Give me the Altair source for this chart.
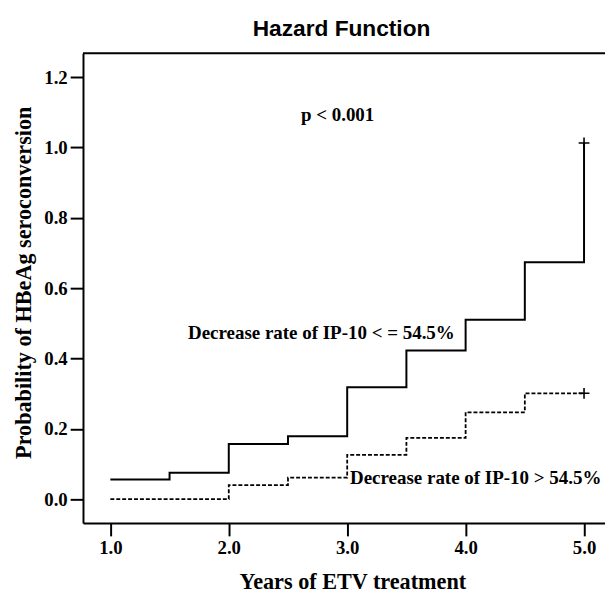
import altair as alt
import pandas as pd

# Step curve: decrease rate of IP-10 <= 54.5%
years_le = [1.0, 1.5, 2.0, 2.5, 3.0, 3.5, 4.0, 4.5, 5.0]
prob_le = [0.056, 0.075, 0.157, 0.179, 0.318, 0.423, 0.510, 0.674, 1.013]

# Step curve: decrease rate of IP-10 > 54.5%
years_gt = [1.0, 2.0, 2.5, 3.0, 3.5, 4.0, 4.5, 5.0]
prob_gt = [0.0, 0.040, 0.061, 0.126, 0.174, 0.247, 0.301, 0.301]

# Censor marks
censor_years = [5.0, 5.0]
censor_prob = [1.013, 0.301]

# Annotations
center_texts = ["p < 0.001", "Decrease rate of IP-10 < = 54.5%"]
center_x = [2.919, 2.782]
center_y = [1.076, 0.456]
left_texts = ["Decrease rate of IP-10 > 54.5%"]
left_x = [3.024]
left_y = [0.042]

x_ticks = [1, 2, 3, 4, 5]
y_ticks = [0.0, 0.2, 0.4, 0.6, 0.8, 1.0, 1.2]

serif = "Liberation Serif"

df_le = pd.DataFrame({"year": years_le, "prob": prob_le})
df_gt = pd.DataFrame({"year": years_gt, "prob": prob_gt})
df_c = pd.DataFrame({"year": censor_years, "prob": censor_prob})
df_tc = pd.DataFrame({"year": center_x, "prob": center_y, "label": center_texts})
df_tl = pd.DataFrame({"year": left_x, "prob": left_y, "label": left_texts})

x_scale = alt.Scale(domain=[0.769, 5.177], nice=False, zero=False)
y_scale = alt.Scale(domain=[-0.068, 1.268], nice=False, zero=False)

x_axis = alt.Axis(values=x_ticks, format=".1f", title="Years of ETV treatment",
                  labelPadding=3, titleX=273, titleY=66.7, titleBaseline="alphabetic",
                  titleAlign="center")
y_axis = alt.Axis(values=y_ticks, format=".1f", title="Probability of HBeAg seroconversion",
                  labelPadding=3, titleX=-52.7, titleY=232, titleAngle=270,
                  titleBaseline="alphabetic", titleAlign="center")

X = alt.X("year:Q", scale=x_scale, axis=x_axis)
Y = alt.Y("prob:Q", scale=y_scale, axis=y_axis)

line_le = alt.Chart(df_le).mark_line(interpolate="step-after", color="black",
                                     strokeWidth=2).encode(x=X, y=Y)
line_gt = alt.Chart(df_gt).mark_line(interpolate="step-after", color="black",
                                     strokeWidth=1.8, strokeDash=[4, 2]).encode(x="year:Q", y="prob:Q")
censor = alt.Chart(df_c).mark_point(shape="M-1,0H1M0,-1V1", size=120, filled=False,
                                    color="black", strokeWidth=1.6, opacity=1).encode(x="year:Q", y="prob:Q")
text_c = alt.Chart(df_tc).mark_text(font=serif, fontWeight="bold", fontSize=19.2,
                                    align="center", baseline="alphabetic", color="black").encode(
    x="year:Q", y="prob:Q", text="label:N")
text_l = alt.Chart(df_tl).mark_text(font=serif, fontWeight="bold", fontSize=19.2,
                                    align="left", baseline="alphabetic", color="black").encode(
    x="year:Q", y="prob:Q", text="label:N")
top_rule = alt.Chart(pd.DataFrame({"a": [0]})).mark_rule(color="black", strokeWidth=2).encode(
    x=alt.value(0), x2=alt.value(529), y=alt.value(0))

chart = alt.layer(line_le, line_gt, censor, text_c, text_l, top_rule).properties(
    width=529, height=476,
    background="white",
    autosize=alt.AutoSizeParams(type="none"),
    padding={"left": 76, "top": 42, "right": 0, "bottom": 69},
    title=alt.TitleParams("Hazard Function", font="Liberation Sans", fontSize=23,
                          fontWeight="bold", anchor="middle", frame="group", dx=-2.5,
                          offset=18, dy=24, baseline="alphabetic", color="black"),
).configure_view(stroke=None).configure_axis(
    grid=False, domainColor="black", domainWidth=2, tickColor="black", tickWidth=2,
    tickSize=13, labelFont=serif, labelFontWeight="bold", labelFontSize=19,
    labelColor="black", titleFont=serif, titleFontSize=22.5, titleFontWeight="bold",
    titleColor="black"
)

chart.save("out.html", embed_options={"renderer": "svg", "actions": False})
